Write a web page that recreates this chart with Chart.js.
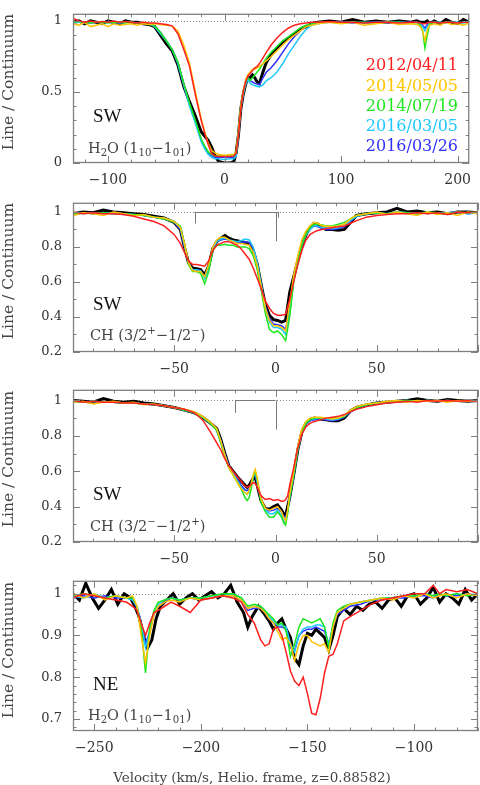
<!DOCTYPE html>
<html><head><meta charset="utf-8">
<script src="https://cdn.jsdelivr.net/npm/chart.js@4.4.1/dist/chart.umd.min.js"></script>
<style>
html,body{margin:0;padding:0;background:#fff;}
body{width:480px;height:785px;overflow:hidden;position:relative;font-family:"DejaVu Serif",serif;}
canvas{position:absolute;left:0;}
.t{position:absolute;white-space:nowrap;line-height:1;}
.yt{font-size:15.5px;color:#444;transform:translate(-50%,-50%) rotate(-90deg);}
.reg{font-family:"Liberation Serif",serif;font-size:19px;color:#111;transform:translateY(-50%);}
.mol{font-size:14.5px;color:#444;transform:translateY(-50%);}
.mol sub{font-size:70%;vertical-align:-0.35em;line-height:0;}
.mol sup{font-size:70%;vertical-align:0.55em;line-height:0;}
.leg{font-size:16px;right:22px;transform:translateY(-50%);}
.xt{font-size:13.5px;color:#444;transform:translate(-50%,-50%);}
</style>
</head><body>
<canvas id="c1"></canvas><canvas id="c2"></canvas><canvas id="c3"></canvas><canvas id="c4"></canvas>

<div class="t yt" style="left:9px;top:82px">Line / Continuum</div>
<div class="t yt" style="left:9px;top:271px">Line / Continuum</div>
<div class="t yt" style="left:9px;top:459px">Line / Continuum</div>
<div class="t yt" style="left:9px;top:650px">Line / Continuum</div>

<div class="t reg" style="left:93px;top:115px">SW</div>
<div class="t mol" style="left:88px;top:148px">H<sub>2</sub>O (1<sub>10</sub>−1<sub>01</sub>)</div>
<div class="t reg" style="left:93px;top:303px">SW</div>
<div class="t mol" style="left:90px;top:335px">CH (3/2<sup>+</sup>−1/2<sup>−</sup>)</div>
<div class="t reg" style="left:93px;top:493px">SW</div>
<div class="t mol" style="left:90px;top:526px">CH (3/2<sup>−</sup>−1/2<sup>+</sup>)</div>
<div class="t reg" style="left:93px;top:683px">NE</div>
<div class="t mol" style="left:88px;top:715px">H<sub>2</sub>O (1<sub>10</sub>−1<sub>01</sub>)</div>

<div id="legend"></div>
<div class="t xt" style="left:252px;top:778px">Velocity (km/s, Helio. frame, z=0.88582)</div>

<script>
// ---------------- DATA ----------------
const DATES = ["2012/04/11","2014/05/05","2014/07/19","2016/03/05","2016/03/26"];
const COLORS = ["#ff1f1f","#ffc400","#1ee61e","#1ec8ff","#3030ff","#000000"];

// Panel 1: SW, H2O (1_10-1_01)
const P1_V = [-130,-125,-120,-115,-110,-105,-100,-95,-90,-85,
  -80,-75,-70,-65,-60,-55,-50,-45,-40,-35,
  -30,-25,-20,-17,-14,-11,-8,-5,0,5,
  8,10,12,14,16,18,20,22,24,26,
  28,30,33,36,40,45,50,55,60,65,
  70,75,80,90,100,110,120,130,140,150,
  160,165,168,170,172,174,176,180,185,190,
  195,200,205,210];
const P1_RED = [1.02,1.0,0.99,1.0,0.99,0.995,0.99,1.0,0.99,0.995,
  0.99,0.985,0.99,0.985,0.985,0.98,0.975,0.965,0.91,0.8,
  0.68,0.48,0.3,0.21,0.13,0.065,0.05,0.045,0.045,0.045,
  0.05,0.07,0.2,0.38,0.5,0.57,0.61,0.63,0.65,0.67,
  0.68,0.7,0.74,0.78,0.83,0.88,0.92,0.95,0.97,0.98,
  0.985,0.99,0.99,0.995,0.99,0.99,0.985,0.99,0.99,0.985,
  0.99,0.99,0.985,0.98,0.98,0.985,0.99,0.99,0.985,0.99,
  0.99,0.985,0.99,0.99];
const P1_YEL = [0.98,0.97,0.99,0.96,0.97,0.98,0.96,0.98,0.97,0.975,
  0.98,0.97,0.98,0.975,0.98,0.975,0.97,0.965,0.93,0.83,
  0.7,0.5,0.31,0.22,0.14,0.09,0.07,0.06,0.055,0.06,
  0.06,0.08,0.22,0.4,0.5,0.58,0.62,0.64,0.66,0.66,
  0.67,0.68,0.7,0.72,0.75,0.79,0.83,0.87,0.9,0.93,
  0.96,0.97,0.98,0.99,0.98,0.99,0.97,0.98,0.99,0.975,
  0.98,0.975,0.96,0.93,0.86,0.94,0.97,0.98,0.97,0.99,
  0.975,0.98,0.97,0.985];
const P1_GRN = [0.99,0.995,0.99,0.985,0.99,0.99,0.985,0.99,0.99,0.985,
  0.99,0.985,0.985,0.98,0.965,0.92,0.86,0.8,0.71,0.56,
  0.42,0.3,0.17,0.12,0.08,0.06,0.05,0.05,0.05,0.05,
  0.05,0.07,0.22,0.4,0.5,0.57,0.6,0.58,0.6,0.62,
  0.64,0.66,0.7,0.74,0.78,0.82,0.86,0.89,0.92,0.95,
  0.97,0.98,0.99,0.99,0.985,0.99,0.99,0.985,0.99,0.99,
  0.985,0.99,0.97,0.93,0.81,0.9,0.98,0.99,0.985,0.99,
  0.99,0.985,0.99,0.99];
const P1_CYA = [0.99,0.99,0.985,0.99,0.99,0.985,0.99,0.99,0.985,0.99,
  0.99,0.985,0.985,0.98,0.96,0.91,0.86,0.8,0.7,0.55,
  0.4,0.28,0.15,0.1,0.06,0.04,0.03,0.03,0.025,0.03,
  0.03,0.05,0.2,0.38,0.48,0.55,0.59,0.56,0.55,0.545,
  0.54,0.535,0.55,0.58,0.6,0.64,0.7,0.77,0.83,0.89,
  0.94,0.97,0.98,0.99,0.99,0.99,0.985,0.99,0.99,0.99,
  0.985,0.99,0.98,0.96,0.93,0.96,0.985,0.99,0.99,0.985,
  0.99,0.99,0.985,0.99];
const P1_BLU = [0.985,0.99,0.99,0.985,0.99,0.99,0.99,0.985,0.99,0.99,
  0.99,0.985,0.985,0.98,0.965,0.92,0.86,0.8,0.7,0.55,
  0.41,0.29,0.16,0.11,0.07,0.05,0.04,0.04,0.04,0.04,
  0.04,0.06,0.21,0.39,0.49,0.56,0.6,0.58,0.57,0.56,
  0.555,0.55,0.6,0.64,0.67,0.72,0.78,0.84,0.89,0.93,
  0.96,0.98,0.99,0.99,0.99,0.985,0.99,0.99,0.985,0.99,
  0.99,0.99,0.985,0.97,0.95,0.975,0.99,0.99,0.985,0.99,
  0.99,0.985,0.99,0.99];
const P1_BLK = [0.99,1.0,0.98,1.0,0.99,0.98,1.0,0.99,0.98,1.0,
  0.99,0.99,0.98,0.975,0.96,0.9,0.84,0.79,0.69,0.54,
  0.43,0.33,0.22,0.19,0.16,0.11,0.05,0.01,0.0,0.0,
  0.01,0.07,0.2,0.38,0.48,0.55,0.6,0.6,0.62,0.6,
  0.57,0.56,0.64,0.71,0.76,0.81,0.85,0.88,0.91,0.94,
  0.96,0.98,0.99,1.0,0.99,1.01,0.99,1.0,0.99,1.0,
  0.99,1.0,0.99,0.99,0.99,1.0,0.98,1.0,0.98,1.01,
  0.99,0.98,1.01,0.99];
const P1_XTICKS = [-100,0,100,200];
const P1_YTICKS = [0,0.5,1];

// Panel 2: SW, CH (3/2+ - 1/2-)
const P2_V = [-100,-95,-90,-85,-80,-75,-70,-65,-60,-55,
  -50,-47,-45,-43,-41,-39,-37,-35,-33,-31,
  -29,-27,-25,-23,-21,-19,-17,-15,-13,-11,
  -9,-7,-5,-3,-1,1,3,5,7,9,
  11,13,15,17,19,21,23,25,28,31,
  34,37,40,45,50,55,60,65,70,75,
  80,85,90,95,100];
const P2_RED = [1.0,0.99,0.995,0.99,0.99,0.985,0.975,0.96,0.945,0.92,
  0.87,0.82,0.77,0.72,0.7,0.7,0.695,0.69,0.72,0.78,
  0.81,0.82,0.83,0.83,0.82,0.81,0.79,0.76,0.73,0.68,
  0.62,0.56,0.49,0.45,0.42,0.41,0.41,0.415,0.5,0.6,
  0.7,0.78,0.84,0.87,0.885,0.895,0.9,0.905,0.91,0.915,
  0.92,0.935,0.95,0.97,0.98,0.985,0.99,0.99,0.995,0.99,
  0.995,0.985,1.0,0.995,1.0];
const P2_YEL = [0.98,0.995,0.99,0.98,1.0,0.99,0.98,0.985,0.97,0.965,
  0.945,0.91,0.82,0.71,0.665,0.66,0.66,0.63,0.7,0.8,
  0.84,0.855,0.855,0.84,0.83,0.82,0.82,0.815,0.81,0.77,
  0.69,0.57,0.45,0.38,0.35,0.35,0.34,0.32,0.48,0.64,
  0.75,0.84,0.89,0.92,0.94,0.935,0.92,0.92,0.915,0.92,
  0.93,0.96,0.98,0.99,1.0,0.985,1.0,0.99,0.98,1.0,
  0.985,0.995,0.98,1.0,0.99];
const P2_GRN = [0.99,0.995,0.99,0.995,0.99,0.99,0.985,0.98,0.97,0.96,
  0.94,0.92,0.82,0.7,0.66,0.66,0.65,0.59,0.66,0.78,
  0.81,0.81,0.815,0.81,0.81,0.8,0.8,0.8,0.79,0.75,
  0.67,0.55,0.42,0.33,0.31,0.32,0.3,0.265,0.4,0.6,
  0.72,0.81,0.87,0.91,0.93,0.93,0.925,0.92,0.92,0.93,
  0.94,0.96,0.98,0.99,0.995,0.99,1.0,0.995,0.99,1.0,
  0.995,0.99,1.0,0.995,1.0];
const P2_CYA = [0.995,0.99,0.995,0.99,0.995,0.99,0.985,0.98,0.97,0.965,
  0.945,0.91,0.81,0.71,0.67,0.67,0.665,0.62,0.68,0.79,
  0.83,0.845,0.85,0.84,0.835,0.83,0.835,0.845,0.84,0.8,
  0.71,0.58,0.45,0.37,0.34,0.34,0.33,0.3,0.42,0.61,
  0.72,0.81,0.87,0.9,0.92,0.92,0.91,0.91,0.905,0.91,
  0.92,0.95,0.975,0.99,0.995,0.99,1.0,0.995,0.99,1.0,
  0.99,0.995,1.0,0.99,0.995];
const P2_BLU = [0.99,0.995,0.99,0.995,0.99,0.985,0.985,0.98,0.97,0.96,
  0.94,0.9,0.8,0.71,0.67,0.67,0.665,0.625,0.68,0.79,
  0.83,0.84,0.845,0.84,0.83,0.825,0.825,0.83,0.825,0.79,
  0.7,0.58,0.46,0.39,0.36,0.355,0.35,0.33,0.45,0.62,
  0.73,0.81,0.87,0.9,0.92,0.915,0.905,0.9,0.9,0.905,
  0.915,0.945,0.975,0.99,0.995,0.99,1.0,0.995,0.99,1.0,
  0.99,0.995,1.0,0.99,0.995];
const P2_BLK = [0.99,1.0,0.995,1.01,1.0,0.995,0.99,0.985,0.975,0.965,
  0.94,0.9,0.8,0.71,0.68,0.675,0.67,0.64,0.69,0.79,
  0.83,0.85,0.865,0.85,0.84,0.835,0.83,0.825,0.82,0.78,
  0.7,0.58,0.47,0.41,0.385,0.38,0.37,0.38,0.54,0.63,
  0.72,0.8,0.87,0.91,0.935,0.93,0.91,0.9,0.9,0.895,
  0.9,0.94,0.98,0.99,0.995,1.0,1.02,1.0,1.005,0.995,
  1.0,0.99,1.0,1.0,0.995];
const P2_XTICKS = [-50,0,50];
const P2_YTICKS = [0.2,0.4,0.6,0.8,1];
const P2_HFS_V = [-40,0,1.2];
const P2_HFS_D = [0.934,0.832,0.967];

// Panel 3: SW, CH (3/2- - 1/2+)
const P3_V = [-100,-95,-90,-85,-80,-75,-70,-65,-60,-55,
  -50,-45,-40,-36,-32,-29,-27,-25,-23,-21,
  -19,-17,-15,-14,-13,-12,-11,-10,-9,-8,
  -7,-5,-3,-1,1,3,4,5,6,7,
  9,11,13,15,17,19,22,25,28,31,
  34,37,40,45,50,55,60,65,70,75,
  80,85,90,95,100];
const P3_RED = [1.0,0.99,0.995,0.99,0.99,0.985,0.985,0.98,0.975,0.97,
  0.96,0.95,0.93,0.89,0.82,0.76,0.72,0.67,0.63,0.6,
  0.57,0.545,0.515,0.51,0.515,0.525,0.535,0.53,0.51,0.48,
  0.46,0.44,0.445,0.435,0.44,0.43,0.43,0.44,0.46,0.52,
  0.62,0.73,0.81,0.85,0.87,0.88,0.89,0.9,0.905,0.91,
  0.92,0.935,0.95,0.965,0.975,0.985,0.99,0.995,0.99,1.0,
  0.995,1.0,0.995,1.0,0.995];
const P3_YEL = [0.99,0.995,0.98,0.99,0.995,0.985,0.99,0.975,0.98,0.97,
  0.96,0.95,0.935,0.91,0.875,0.84,0.77,0.69,0.62,0.58,
  0.54,0.5,0.48,0.47,0.49,0.53,0.58,0.61,0.56,0.49,
  0.44,0.39,0.38,0.39,0.4,0.37,0.34,0.32,0.38,0.47,
  0.6,0.74,0.84,0.88,0.9,0.905,0.905,0.9,0.895,0.9,
  0.915,0.945,0.965,0.98,0.985,0.995,1.0,0.99,1.0,0.995,
  1.0,0.99,1.0,0.995,1.0];
const P3_GRN = [0.995,0.99,0.995,0.99,0.99,0.985,0.985,0.98,0.975,0.97,
  0.96,0.945,0.93,0.905,0.87,0.83,0.76,0.68,0.62,0.58,
  0.54,0.5,0.45,0.435,0.45,0.5,0.57,0.6,0.55,0.48,
  0.42,0.37,0.34,0.34,0.37,0.34,0.31,0.295,0.36,0.45,
  0.58,0.72,0.82,0.87,0.89,0.9,0.9,0.9,0.9,0.9,
  0.91,0.94,0.96,0.975,0.985,0.99,0.995,1.0,0.995,1.0,
  0.995,1.0,0.995,1.0,0.995];
const P3_CYA = [0.995,0.99,0.995,0.99,0.99,0.985,0.985,0.98,0.975,0.97,
  0.96,0.945,0.93,0.905,0.87,0.835,0.77,0.69,0.63,0.59,
  0.55,0.51,0.48,0.47,0.48,0.52,0.57,0.59,0.54,0.48,
  0.43,0.38,0.36,0.36,0.38,0.35,0.32,0.31,0.37,0.45,
  0.58,0.72,0.82,0.87,0.89,0.895,0.9,0.895,0.89,0.895,
  0.91,0.94,0.96,0.975,0.985,0.99,0.995,1.0,0.995,1.0,
  0.995,1.0,0.995,1.0,0.995];
const P3_BLU = [0.995,0.99,0.995,0.99,0.99,0.985,0.985,0.98,0.975,0.97,
  0.96,0.945,0.93,0.905,0.87,0.835,0.775,0.695,0.63,0.595,
  0.56,0.52,0.495,0.49,0.5,0.53,0.565,0.58,0.53,0.475,
  0.43,0.385,0.375,0.38,0.39,0.37,0.345,0.34,0.38,0.45,
  0.58,0.72,0.82,0.865,0.885,0.89,0.895,0.89,0.885,0.89,
  0.905,0.935,0.96,0.975,0.985,0.99,0.995,1.0,0.995,1.0,
  0.995,1.0,0.995,1.0,0.995];
const P3_BLK = [1.0,0.995,0.99,1.01,0.995,0.99,0.995,0.985,0.98,0.97,
  0.96,0.945,0.93,0.905,0.87,0.84,0.78,0.7,0.63,0.6,
  0.57,0.545,0.52,0.51,0.52,0.54,0.56,0.565,0.52,0.47,
  0.43,0.39,0.385,0.4,0.41,0.38,0.36,0.35,0.4,0.45,
  0.58,0.72,0.82,0.87,0.89,0.9,0.895,0.89,0.885,0.885,
  0.9,0.94,0.96,0.975,0.985,0.99,0.995,1.0,1.01,1.0,
  0.995,1.005,1.0,0.995,1.0];
const P3_XTICKS = [-50,0,50];
const P3_YTICKS = [0.2,0.4,0.6,0.8,1];
const P3_HFS_V = [-20,0];
const P3_HFS_D = [0.93,0.835];

// Panel 4: NE, H2O (1_10-1_01)
const P4_V = [-260,-255,-250,-245,-240,-235,-232,-230,-228,-226,
  -224,-222,-220,-217,-214,-210,-205,-200,-195,-190,
  -185,-181,-178,-175,-172,-170,-168,-166,-164,-162,
  -160,-158,-156,-154,-152,-150,-148,-146,-144,-142,
  -140,-138,-136,-133,-130,-125,-120,-115,-110,-105,
  -100,-95,-91,-88,-85,-80,-75,-70];
const P4_RED = [0.99,1.0,0.995,0.99,0.985,0.98,0.97,0.96,0.93,0.9,
  0.93,0.955,0.96,0.97,0.98,0.97,0.955,0.985,0.99,0.995,
  0.99,0.98,0.95,0.93,0.89,0.875,0.88,0.915,0.92,0.9,
  0.86,0.815,0.79,0.78,0.8,0.76,0.713,0.71,0.75,0.81,
  0.85,0.855,0.88,0.935,0.945,0.96,0.975,0.985,0.99,0.995,
  1.0,1.0,1.02,1.0,1.01,1.005,1.01,1.0];
const P4_YEL = [1.0,0.99,1.0,0.985,0.995,0.99,0.995,0.97,0.9,0.835,
  0.9,0.95,0.97,0.98,0.985,0.98,0.99,0.985,0.99,0.995,
  0.995,0.985,0.965,0.97,0.965,0.955,0.94,0.93,0.91,0.89,
  0.895,0.88,0.84,0.88,0.9,0.9,0.885,0.88,0.875,0.88,
  0.86,0.92,0.955,0.965,0.975,0.98,0.985,0.99,0.985,0.995,
  0.99,1.0,0.99,0.995,1.0,0.99,1.0,0.995];
const P4_GRN = [0.995,1.0,0.995,0.99,0.995,0.99,0.99,0.97,0.92,0.81,
  0.92,0.96,0.98,0.985,0.99,0.985,0.99,0.99,0.995,1.0,
  1.0,0.99,0.97,0.975,0.97,0.96,0.95,0.94,0.925,0.93,
  0.91,0.85,0.88,0.92,0.94,0.935,0.93,0.935,0.94,0.92,
  0.87,0.93,0.96,0.97,0.975,0.98,0.985,0.99,0.99,0.995,
  0.995,1.0,0.995,1.0,0.995,1.0,0.995,1.0];
const P4_CYA = [0.995,0.99,1.0,0.99,0.995,0.99,0.985,0.97,0.93,0.87,
  0.91,0.955,0.975,0.985,0.99,0.985,0.99,0.99,0.995,0.995,
  1.0,0.99,0.965,0.97,0.97,0.96,0.945,0.935,0.925,0.925,
  0.92,0.88,0.86,0.9,0.915,0.92,0.92,0.925,0.925,0.92,
  0.875,0.925,0.955,0.965,0.975,0.98,0.985,0.99,0.99,0.995,
  0.995,1.0,0.995,1.0,0.995,1.0,0.995,1.0];
const P4_BLU = [0.99,0.995,0.99,0.995,0.99,0.99,0.985,0.965,0.93,0.88,
  0.91,0.95,0.97,0.98,0.99,0.985,0.99,0.985,0.99,0.995,
  0.995,0.985,0.96,0.965,0.965,0.955,0.94,0.93,0.92,0.92,
  0.915,0.87,0.865,0.9,0.91,0.915,0.915,0.92,0.915,0.91,
  0.88,0.92,0.95,0.96,0.97,0.975,0.985,0.985,0.99,0.99,
  0.995,0.995,0.99,1.0,0.995,0.995,1.0,0.995];
// the black (mean) spectrum is sampled more finely to keep its visible noise
const P4_BLK_V = [-260,-257,-254,-251,-248,-245,-242,-239,-236,-233,
  -231,-229,-227,-225,-223,-221,-219,-216,-213,-210,
  -207,-204,-201,-198,-195,-192,-189,-186,-183,-180,
  -178,-176,-173,-170,-168,-166,-164,-162,-160,-158,
  -156,-154,-152,-150,-148,-146,-144,-142,-140,-138,
  -136,-133,-130,-127,-124,-121,-118,-115,-112,-109,
  -106,-103,-100,-97,-94,-91,-88,-85,-82,-79,
  -76,-73,-70];
const P4_BLK = [1.0,0.985,1.025,0.99,0.965,0.985,1.01,0.975,1.0,0.99,
  0.97,0.945,0.9,0.87,0.89,0.94,0.97,0.985,1.0,0.975,
  0.99,1.0,0.985,0.995,1.005,0.99,1.0,1.02,0.98,0.955,
  0.92,0.945,0.97,0.95,0.935,0.915,0.93,0.94,0.915,0.895,
  0.845,0.83,0.875,0.905,0.9,0.915,0.905,0.895,0.865,0.9,
  0.945,0.965,0.95,0.97,0.96,0.975,0.98,0.965,0.985,0.99,
  0.97,0.995,1.0,0.975,0.99,1.015,0.98,1.0,0.99,0.975,
  1.01,0.985,1.0];
const P4_XTICKS = [-250,-200,-150,-100];
const P4_YTICKS = [0.7,0.8,0.9,1];

// ---------------- RENDERING ----------------
Chart.defaults.font.family = '"DejaVu Serif", serif';

// legend (real text)
const legEl = document.getElementById('legend');
const LEG_Y = [65, 86, 106, 126, 146];
DATES.forEach((d, i) => {
  const e = document.createElement('div');
  e.className = 't leg';
  e.style.top = LEG_Y[i] + 'px';
  e.style.color = COLORS[i];
  e.textContent = d;
  legEl.appendChild(e);
});

function fmt(v) {
  let s = String(Math.round(v * 1000) / 1000);
  return s.replace('-', '\u2212');
}

function decoPlugin(P) {
  return {
    id: 'deco' + P.id,
    beforeDatasetsDraw(chart) {
      const {ctx, chartArea: a, scales: {y}} = chart;
      const py = Math.round(y.getPixelForValue(1)) + 0.5;
      ctx.save();
      ctx.strokeStyle = '#8c8c8c'; ctx.lineWidth = 1; ctx.setLineDash([1, 2]);
      ctx.beginPath(); ctx.moveTo(a.left, py); ctx.lineTo(a.right, py); ctx.stroke();
      ctx.restore();
    },
    afterDatasetsDraw(chart) {
      const {ctx, chartArea: a, scales: {x, y}} = chart;
      ctx.save();
      ctx.strokeStyle = '#7a7a7a'; ctx.lineWidth = 1;
      // hyperfine markers
      if (P.hfsV) {
        const y1 = y.getPixelForValue(1);
        const xs = P.hfsV.map(v => x.getPixelForValue(v));
        ctx.beginPath();
        ctx.moveTo(Math.min(...xs), Math.round(y1) + 0.5);
        ctx.lineTo(Math.max(...xs), Math.round(y1) + 0.5);
        P.hfsV.forEach((v, i) => {
          const px = Math.round(x.getPixelForValue(v)) + 0.5;
          ctx.moveTo(px, y1);
          ctx.lineTo(px, y.getPixelForValue(P.hfsD[i]));
        });
        ctx.stroke();
      }
      // frame
      ctx.lineWidth = 1.3;
      ctx.strokeStyle = '#808080';
      ctx.strokeRect(a.left + 0.5, a.top + 0.5, a.right - a.left - 1, a.bottom - a.top - 1);
      ctx.lineWidth = 1;
      const ticks = (min, max, minor, major) => {
        const out = [];
        for (let k = Math.ceil(min / minor - 1e-9); k * minor <= max + 1e-9; k++) {
          const v = k * minor;
          const r = v / major;
          out.push({v, M: Math.abs(r - Math.round(r)) < 1e-6});
        }
        return out;
      };
      ctx.beginPath();
      ticks(P.xMin, P.xMax, P.xMinor, P.xMajor).forEach(t => {
        const px = Math.round(x.getPixelForValue(t.v)) + 0.5;
        const L = t.M ? 7 : 3.5;
        ctx.moveTo(px, a.bottom); ctx.lineTo(px, a.bottom - L);
        ctx.moveTo(px, a.top); ctx.lineTo(px, a.top + L);
      });
      ticks(P.yMin, P.yMax, P.yMinor, P.yMajor).forEach(t => {
        const py = Math.round(y.getPixelForValue(t.v)) + 0.5;
        const L = t.M ? 7 : 3.5;
        ctx.moveTo(a.left, py); ctx.lineTo(a.left + L, py);
        ctx.moveTo(a.right, py); ctx.lineTo(a.right - L, py);
      });
      ctx.stroke();
      ctx.restore();
    }
  };
}

function makePanel(P) {
  const cv = document.getElementById(P.id);
  const H = P.bottom - P.top + 6 + 26;
  cv.width = 480; cv.height = H;
  cv.style.width = '480px'; cv.style.height = H + 'px';
  cv.style.top = (P.top - 6) + 'px';
  const datasets = P.series.map((s, i) => {
    const xs = Array.isArray(s) ? P.v : s.v;
    const ys = Array.isArray(s) ? s : s.y;
    return {
      label: i < DATES.length ? DATES[i] : 'mean',
      data: xs.map((v, j) => ({x: v, y: ys[j]})),
      borderColor: COLORS[i],
      borderWidth: i === 5 ? 3 : 1.5,
      pointRadius: 0,
      tension: 0,
      fill: false
    };
  });
  new Chart(cv, {
    type: 'line',
    data: {datasets},
    options: {
      responsive: false,
      animation: false,
      devicePixelRatio: 1,
      layout: {padding: {top: 6, right: 2, left: 0, bottom: 0}},
      plugins: {legend: {display: false}, tooltip: {enabled: false}},
      scales: {
        x: {
          type: 'linear', min: P.xMin, max: P.xMax,
          afterFit: s => { s.height = 26; },
          afterBuildTicks: s => { s.ticks = P.xTicks.map(v => ({value: v})); },
          grid: {display: false, drawTicks: false},
          border: {display: false},
          ticks: {padding: 9, color: '#333', font: {size: 14}, maxRotation: 0, autoSkip: false, callback: v => fmt(v)}
        },
        y: {
          type: 'linear', min: P.yMin, max: P.yMax,
          afterFit: s => { s.width = 73; },
          afterBuildTicks: s => { s.ticks = P.yTicks.map(v => ({value: v})); },
          grid: {display: false, drawTicks: false},
          border: {display: false},
          ticks: {padding: 11, color: '#333', font: {size: 13}, autoSkip: false, callback: v => fmt(v)}
        }
      }
    },
    plugins: [decoPlugin(P)]
  });
}

makePanel({id: 'c1', top: 1, bottom: 163, xMin: -130, xMax: 210, yMin: 0, yMax: 1.05,
  xTicks: P1_XTICKS, yTicks: P1_YTICKS, xMinor: 20, xMajor: 100, yMinor: 0.1, yMajor: 0.5,
  v: P1_V, series: [P1_RED, P1_YEL, P1_GRN, P1_CYA, P1_BLU, P1_BLK]});
makePanel({id: 'c2', top: 190, bottom: 352, xMin: -100, xMax: 100, yMin: 0.2, yMax: 1.052,
  xTicks: P2_XTICKS, yTicks: P2_YTICKS, xMinor: 10, xMajor: 50, yMinor: 0.1, yMajor: 0.2,
  hfsV: P2_HFS_V, hfsD: P2_HFS_D,
  v: P2_V, series: [P2_RED, P2_YEL, P2_GRN, P2_CYA, P2_BLU, P2_BLK]});
makePanel({id: 'c3', top: 377, bottom: 542, xMin: -100, xMax: 100, yMin: 0.2, yMax: 1.06,
  xTicks: P3_XTICKS, yTicks: P3_YTICKS, xMinor: 10, xMajor: 50, yMinor: 0.1, yMajor: 0.2,
  hfsV: P3_HFS_V, hfsD: P3_HFS_D,
  v: P3_V, series: [P3_RED, P3_YEL, P3_GRN, P3_CYA, P3_BLU, P3_BLK]});
makePanel({id: 'c4', top: 568, bottom: 731, xMin: -260, xMax: -70, yMin: 0.671, yMax: 1.031,
  xTicks: P4_XTICKS, yTicks: P4_YTICKS, xMinor: 10, xMajor: 50, yMinor: 0.02, yMajor: 0.1,
  v: P4_V, series: [P4_RED, P4_YEL, P4_GRN, P4_CYA, P4_BLU, {v: P4_BLK_V, y: P4_BLK}]});
</script>
</body></html>
